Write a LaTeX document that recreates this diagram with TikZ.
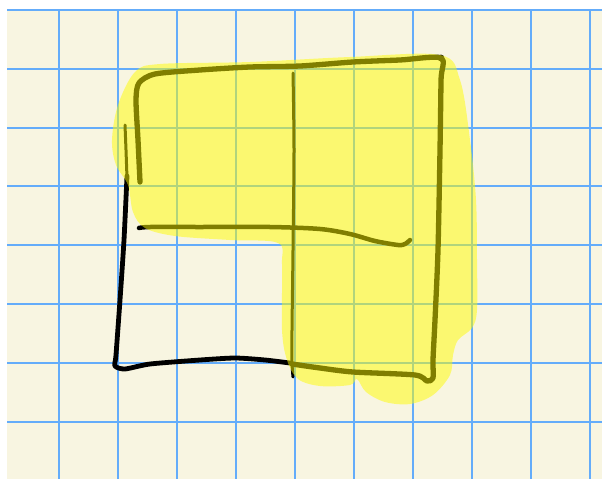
\documentclass[tikz,border=0pt]{standalone}
\begin{document}
\begin{tikzpicture}[x=1pt,y=-1pt,
  gridline/.style={draw=gridblue,line width=2.8pt},
  pen/.style={draw=black,line width=5.3pt,line cap=round,line join=round},
  thinpen/.style={draw=black,line width=3pt,line cap=round,line join=round},
  hilite/.style={fill=hiyellow,fill opacity=0.5,draw=none}]
\definecolor{paper}{RGB}{248,245,225}
\definecolor{gridblue}{RGB}{100,172,250}
\definecolor{hiyellow}{RGB}{255,252,0}
\useasboundingbox (0,0) rectangle (602,479);
\fill[white] (0,0) rectangle (602,479);
\fill[paper] (7,10) rectangle (602,479);
% grid
\foreach \gx in {59,118,177,236,295,354,413,472,531,590}
  \draw[gridline] (\gx,10) -- (\gx,479);
\foreach \gy in {10,69,128,186,245,304,363,422}
  \draw[gridline] (7,\gy) -- (602,\gy);
% black left/bottom stroke
\draw[thinpen] plot[smooth,tension=0.5] coordinates {(125,125) (126,150) (127,178)};
\draw[pen,line width=4.8pt] plot[smooth,tension=0.4] coordinates {(127,176) (124,240) (120,300) (116,355) (115,366) (125,369) (150,364) (200,360) (235,358) (265,360) (290,363)};
% middle vertical
\draw[thinpen] plot[smooth,tension=0.5] coordinates {(293,73) (294,150) (293,250) (292,330) (292,362) (293,377)};
% main olive stroke
\draw[pen] plot[smooth,tension=0.45] coordinates {(140,182) (138,140) (136,100) (139,83) (155,74) (200,70) (250,67) (300,66) (353,62) (400,60) (441,58) (441,80) (440,150) (438,250) (435,320) (433,360) (433,378) (427,381) (415,375) (353,372) (320,368) (292,364)};
\fill (441,58) circle (3.4);
% middle horizontal
\draw[pen,line width=4.5pt] plot[smooth,tension=0.5] coordinates {(139,228) (150,227) (200,227) (270,227) (320,229) (350,234) (375,241) (398,245) (405,244) (410,240)};
% highlighter
\fill[hilite] plot[smooth cycle,tension=0.55] coordinates {
  (118,105) (135,72) (160,64) (250,62) (350,57) (440,55) (460,80) (470,140) (476,200) (477,260) (477,310) (472,328) (458,340) (453,355) (450,375) (433,395) (410,404) (385,402) (366,392) (357,379) (350,385) (320,386) (298,379) (287,360) (282,330) (282,265) (278,243) (230,240) (175,236) (145,228) (133,212) (128,185) (116,165) (112,140)};
\end{tikzpicture}
\end{document}
